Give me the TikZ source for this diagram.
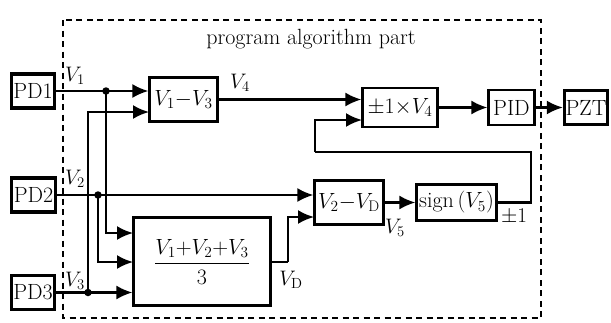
\RequirePackage{fix-cm}
\documentclass[tikz,border=0pt]{standalone}
\usepackage{fontspec}
\usetikzlibrary{arrows.meta}
\begin{document}
\begin{tikzpicture}[x=1pt,y=-1pt,
  every node/.style={font=\fontsize{22}{26}\selectfont, inner sep=0pt},
  pd/.style={draw, line width=3.4pt, minimum width=#1, minimum height=34pt},
  blk/.style={draw, line width=2.2pt},
  arr/.style={line width=2.2pt, -{Latex[length=16pt,width=14pt]}},
  ln/.style={line width=2.2pt},
  dot/.style={circle, fill, inner sep=0pt, minimum size=7.5pt},
  lab/.style={font=\fontsize{21}{24}\selectfont}]
\useasboundingbox (0,0) rectangle (611,322);
% dashed frame
\draw[line width=2.6pt, dash pattern=on 6pt off 4.5pt] (63,20) rectangle (541,318);
\node (title) at (311,39) {program algorithm part};
% sources
\node[pd=43pt] (PD1) at (33,91) {PD1};
\node[pd=44pt] (PD2) at (33.5,195) {PD2};
\node[pd=43pt] (PD3) at (33,292.5) {PD3};
\node[pd=43pt] (PZT) at (586,107.5) {PZT};
% blocks
\node[blk, minimum width=68pt, minimum height=44pt] (V13) at (183.5,99.5) {$V_1{-}V_3$};
\node[blk, minimum width=75pt, minimum height=39pt] (PM) at (400,107.5) {$\pm1{\times}V_4$};
\node[blk, minimum width=46pt, minimum height=35pt] (PID) at (511.5,107.5) {PID};
\node[blk, minimum width=69pt, minimum height=44pt] (V2D) at (349,202.5) {$V_2{-}V_{\mathrm{D}}$};
\node[blk, minimum width=80pt, minimum height=36pt] (SGN) at (456.5,202.5) {sign\,($V_5$)};
\node[blk, minimum width=137pt, minimum height=88pt] (AVG) at (202,261.5) {$\displaystyle\frac{V_1{+}V_2{+}V_3}{3}$};
% junctions
\node[dot] (j1) at (106,91) {};
\node[dot] (j2) at (98,195) {};
\node[dot] (j3) at (88,292.5) {};
\coordinate (a1) at (133,233);
\coordinate (a2) at (133,262);
\coordinate (b1) at (149,112);
\coordinate (c1) at (314,217);
\coordinate (d1) at (362,120);
\coordinate (f1) at (531,152);
\coordinate (f2) at (315,152);
\coordinate (g1) at (288,262);
% connectors
\draw[arr] (PD1.east) -- (PD1.east -| V13.west);
\draw[arr] (PD2.east) -- (PD2.east -| V2D.west);
\draw[arr] (PD3.east) -- (PD3.east -| AVG.west);
\draw[arr] (j1.center) |- (a1);
\draw[arr] (j2.center) |- (a2);
\draw[arr] (j3.center) |- (b1);
\draw[ln] (AVG.east |- g1) -- (g1);
\draw[arr] (g1) |- (c1);
\draw[arr] (V13.east) -- (V13.east -| PM.west);
\draw[arr] (PM.east) -- (PID.west);
\draw[arr] (PID.east) -- (PZT.west);
\draw[arr] (V2D.east) -- (SGN.west);
\draw[ln] (SGN.east) -| (f1) -- (f2);
\draw[arr] (f2) |- (d1);
% labels
\node[lab] (lV1) at (75,76) {$V_1$};
\node[lab] (lV2) at (75,179) {$V_2$};
\node[lab] (lV3) at (75,281) {$V_3$};
\node[lab] (lV4) at (240,83) {$V_4$};
\node[lab] (lVD) at (291,280) {$V_{\mathrm{D}}$};
\node[lab] (lV5) at (395,228) {$V_5$};
\node[lab] (lpm) at (514,217) {$\pm1$};
\end{tikzpicture}
\end{document}
